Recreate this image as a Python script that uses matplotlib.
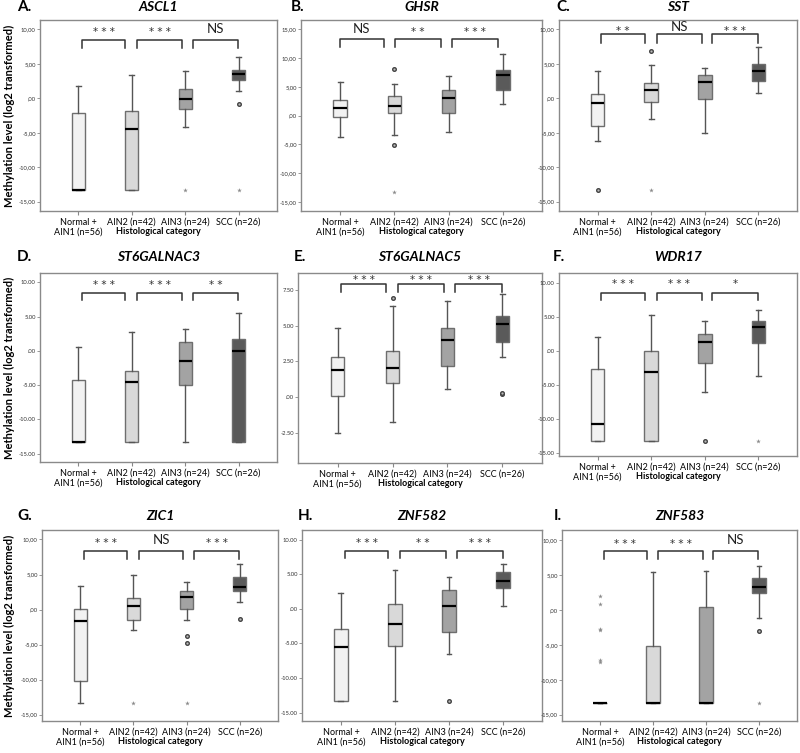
#!/usr/bin/env python

from matplotlib import pyplot as plt
from matplotlib.ticker import FuncFormatter

plt.rcParams['font.family'] = ['Lato', 'DejaVu Sans']

categories = ['Normal +\nAIN1 (n=56)', 'AIN2 (n=42)', 'AIN3 (n=24)', 'SCC (n=26)']
box_colors = ['#f2f2f2', '#d9d9d9', '#a3a3a3', '#5a5a5a']

# each row: whisker low, q1, median, q3, whisker high
ascl1_box = [[-13.3, -13.3, -13.3, -2.08, 1.79],
             [-13.3, -13.3, -4.40, -1.84, 3.33],
             [-4.10, -1.50, -0.05, 1.30, 4.01],
             [1.11, 2.61, 3.53, 4.15, 6.04]]
ascl1_circles = [[], [], [], [-0.82]]
ascl1_stars = [[], [], [-13.3], [-13.3]]
ascl1_sig = ['***', '***', 'NS']

ghsr_box = [[-3.77, -0.23, 1.33, 2.67, 5.86],
            [-3.37, 0.46, 1.68, 3.42, 5.40],
            [-2.79, 0.35, 3.02, 4.47, 6.79],
            [2.03, 4.35, 6.96, 7.95, 10.68]]
ghsr_circles = [[], [8.0, -5.05], [], []]
ghsr_stars = [[], [-13.3], [], []]
ghsr_sig = ['NS', '**', '***']

sst_box = [[-6.23, -4.06, -0.63, 0.68, 3.96],
           [-3.00, -0.53, 1.21, 2.27, 4.78],
           [-5.02, -0.05, 2.42, 3.43, 4.40],
           [0.72, 2.56, 4.01, 4.93, 7.39]]
sst_circles = [[-13.3], [6.86], [], []]
sst_stars = [[], [-13.3], [], []]
sst_sig = ['**', 'NS', '***']

st6galnac3_box = [[-13.3, -13.3, -13.3, -4.22, 0.53],
                  [-13.3, -13.3, -4.56, -2.86, 2.72],
                  [-13.3, -5.00, -1.41, 1.31, 3.25],
                  [-13.3, -13.3, -0.05, 1.70, 5.58]]
st6galnac3_circles = [[], [], [], []]
st6galnac3_stars = [[], [], [], []]
st6galnac3_sig = ['***', '***', '**']

st6galnac5_box = [[-2.52, 0.12, 1.88, 2.78, 4.81],
                  [-1.74, 0.97, 2.06, 3.19, 6.37],
                  [0.56, 2.20, 3.96, 4.81, 6.69],
                  [2.82, 3.84, 5.09, 5.65, 7.20]]
st6galnac5_circles = [[], [6.92], [], [0.25, 0.32]]
st6galnac5_stars = [[], [], [], []]
st6galnac5_sig = ['***', '***', '***']

wdr17_box = [[-13.3, -13.3, -10.8, -2.73, 2.05],
             [-13.3, -13.3, -3.12, 0.0, 5.31],
             [-6.05, -1.81, 1.36, 2.48, 4.33],
             [-3.70, 1.17, 3.51, 4.33, 5.94]]
wdr17_circles = [[], [], [-13.3], []]
wdr17_stars = [[], [], [], [-13.3]]
wdr17_sig = ['***', '***', '*']

zic1_box = [[-13.3, -10.13, -1.58, 0.01, 3.29],
            [-2.88, -1.44, 0.54, 1.60, 4.93],
            [-1.44, 0.15, 1.84, 2.62, 3.87],
            [1.12, 2.66, 3.19, 4.69, 6.53]]
zic1_circles = [[], [], [-3.8, -4.83], [-1.30]]
zic1_stars = [[], [-13.3], [-13.3], []]
zic1_sig = ['***', 'NS', '***']

znf582_box = [[-13.27, -13.27, -5.45, -2.90, 2.36],
              [-13.27, -5.41, -2.22, 0.77, 5.69],
              [-6.52, -3.28, 0.39, 2.75, 4.68],
              [0.48, 3.04, 4.05, 5.31, 6.52]]
znf582_circles = [[], [], [-13.27], []]
znf582_stars = [[], [], [], []]
znf582_sig = ['***', '**', '***']

znf583_box = [[-13.3, -13.3, -13.3, -13.3, -13.3],
              [-13.3, -13.3, -13.3, -5.12, 5.40],
              [-13.3, -13.3, -13.3, 0.41, 5.54],
              [-1.15, 2.34, 3.21, 4.52, 6.27]]
znf583_circles = [[], [], [], [-2.98]]
znf583_stars = [[2.0, 0.8, -2.7, -2.9, -7.2, -7.5], [], [], [-13.3]]
znf583_sig = ['***', '***', 'NS']

panels = [
    ('A.', 'ASCL1', ascl1_box, ascl1_circles, ascl1_stars, ascl1_sig),
    ('B.', 'GHSR', ghsr_box, ghsr_circles, ghsr_stars, ghsr_sig),
    ('C.', 'SST', sst_box, sst_circles, sst_stars, sst_sig),
    ('D.', 'ST6GALNAC3', st6galnac3_box, st6galnac3_circles, st6galnac3_stars, st6galnac3_sig),
    ('E.', 'ST6GALNAC5', st6galnac5_box, st6galnac5_circles, st6galnac5_stars, st6galnac5_sig),
    ('F.', 'WDR17', wdr17_box, wdr17_circles, wdr17_stars, wdr17_sig),
    ('G.', 'ZIC1', zic1_box, zic1_circles, zic1_stars, zic1_sig),
    ('H.', 'ZNF582', znf582_box, znf582_circles, znf582_stars, znf582_sig),
    ('I.', 'ZNF583', znf583_box, znf583_circles, znf583_stars, znf583_sig),
]

# layout: axes rect in pixels (left, top, right, bottom), y limits, ticks,
# decimal sign, bracket (top, leg bottom, text y), bracket x shift, letter x
layout = [
    ((40, 20, 277, 211), (-16.35, 11.35), range(-15, 11, 5), ',', (8.45, 7.33, 10.0), 0.0, 17),
    ((301, 20, 542, 211), (-16.6, 16.6), range(-15, 16, 5), ',', (13.3, 11.96, 15.0), -0.08, 291),
    ((559, 20, 797, 211), (-16.35, 11.35), range(-15, 11, 5), ',', (9.32, 8.07, 10.3), 0.0, 556),
    ((40, 273, 277, 462), (-16.2, 11.36), range(-15, 11, 5), '.', (8.5, 7.4, 10.0), 0.0, 17),
    ((298, 273, 542, 463), (-4.58, 8.66), [-2.5, 0, 2.5, 5, 7.5], '.', (7.92, 7.34, 8.38), 0.0, 294),
    ((559, 273, 797, 456), (-15.5, 11.45), range(-15, 11, 5), '.', (8.57, 7.5, 10.28), 0.0, 553),
    ((42, 530, 278, 721), (-15.9, 11.35), range(-15, 11, 5), ',', (8.35, 7.25, 9.9), 0.0, 17),
    ((302, 530, 542, 721), (-16.2, 11.4), range(-15, 11, 5), '.', (8.4, 7.29, 10.0), 0.0, 298),
    ((562, 530, 797, 721), (-15.9, 11.4), range(-15, 11, 5), ',', (8.4, 7.3, 9.9), 0.0, 554),
]

bracket_lo = [0.07, 1.10, 2.14]
bracket_hi = [0.88, 1.94, 2.99]

W, H = 800, 753
fig = plt.figure(figsize=(W / 100, H / 100), dpi=100)


def make_formatter(sep):
    def fmt(v, pos):
        s = f'{v:.2f}'
        if s.startswith('0'):
            s = s[1:]
        return s.replace('.', sep)
    return FuncFormatter(fmt)


for n, (panel, lay) in enumerate(zip(panels, layout)):
    letter, gene, box, circles, stars, sig = panel
    (l, t, r, b), ylim, yticks, sep, (btop, bleg, ty), shift, lx = lay
    ax = fig.add_axes([l / W, 1 - b / H, (r - l) / W, (b - t) / H])

    stats = [dict(whislo=lo, q1=q1, med=med, q3=q3, whishi=hi, fliers=[])
             for lo, q1, med, q3, hi in box]
    bp = ax.bxp(stats, positions=range(4), widths=0.25, capwidths=0.09,
                patch_artist=True, showfliers=False,
                boxprops=dict(edgecolor='#6e6e6e', linewidth=1),
                whiskerprops=dict(color='#555555', linewidth=1),
                capprops=dict(color='#555555', linewidth=1),
                medianprops=dict(color='black', linewidth=1.6, solid_capstyle='butt'))
    for patch, c in zip(bp['boxes'], box_colors):
        patch.set_facecolor(c)
    for i, ys in enumerate(circles):
        ax.plot([i] * len(ys), ys, 'o', ms=2.6, mfc='#bbbbbb', mec='#444444', mew=1)
    for i, ys in enumerate(stars):
        ax.plot([i] * len(ys), ys, '*', ms=3.5, color='#8a8a8a', mew=0)

    for k in range(3):
        x0 = bracket_lo[k] + shift
        x1 = bracket_hi[k] + shift
        ax.plot([x0, x0, x1, x1], [bleg, btop, btop, bleg], color='#333333', lw=1.1)
        if sig[k] == 'NS':
            ax.text((x0 + x1) / 2, ty, 'NS', ha='center', va='center',
                    fontsize=9.5, color='#222222')
        else:
            ax.text((x0 + x1) / 2, ty - 0.4 * (btop - bleg), ' '.join(sig[k]),
                    ha='center', va='center', fontsize=7.5, color='#333333',
                    family='DejaVu Sans')

    ax.set_xlim(-0.72, 3.72)
    ax.set_ylim(*ylim)
    ax.set_yticks(list(yticks))
    ax.yaxis.set_major_formatter(make_formatter(sep))
    ax.set_xticks(range(4))
    ax.set_xticklabels(categories, fontsize=6.5, linespacing=1.1)
    ax.tick_params(axis='x', length=3, width=0.8, color='#888888', pad=2)
    ax.tick_params(axis='y', length=2, width=0.6, color='#888888', pad=1,
                   labelsize=4.2, labelcolor='#333333')
    for sp in ax.spines.values():
        sp.set_color('#8a8a8a')
        sp.set_linewidth(1)

    ax.annotate('Histological category', xy=(0.5, 0), xycoords='axes fraction',
                xytext=(0, -11.6), textcoords='offset points', ha='center', va='top',
                fontsize=6.5, fontweight='bold')

    ty_fig = 7 if t < 100 else (257 if t < 400 else 516)
    fig.text(lx / W, 1 - ty_fig / H, letter, ha='left', va='center',
             fontsize=11, fontweight='bold')
    fig.text((l + r) / 2 / W, 1 - ty_fig / H, gene, ha='center', va='center',
             fontsize=10, fontweight='bold', fontstyle='italic')

    if n % 3 == 0:
        fig.text(9 / W, 1 - (t + b) / 2 / H, 'Methylation level (log2 transformed)',
                 rotation=90, ha='center', va='center', fontsize=8, fontweight='bold')

fig.savefig('out.png', dpi=100)
